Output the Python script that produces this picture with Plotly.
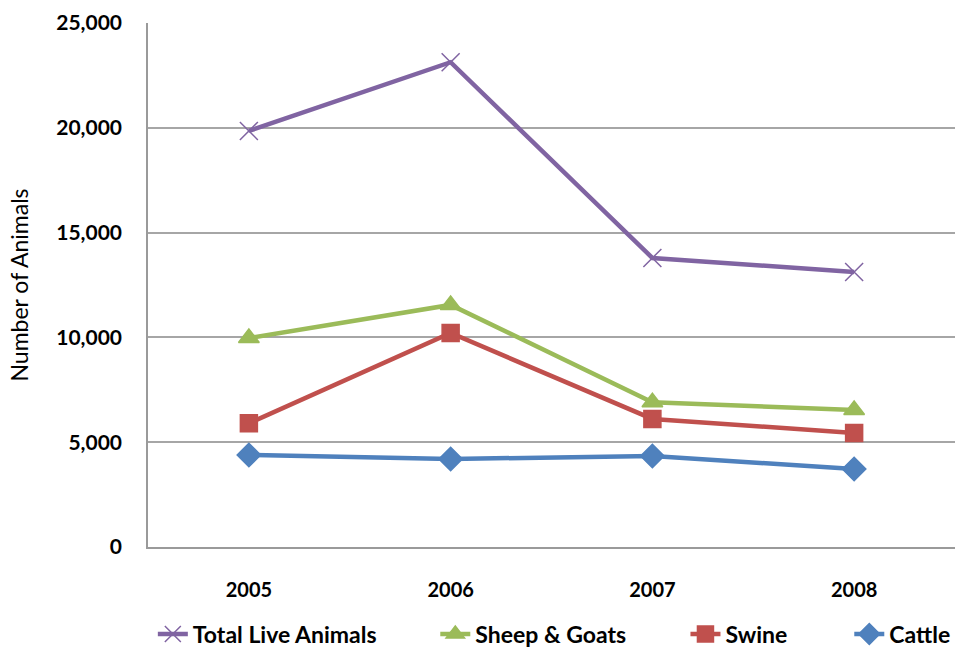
import plotly.graph_objects as go

years = ["2005", "2006", "2007", "2008"]
total_live = [19850, 23130, 13790, 13120]
sheep_goats = [9970, 11550, 6910, 6540]
swine = [5900, 10210, 6110, 5440]
cattle = [4390, 4200, 4340, 3720]

y_ticks = [0, 5000, 10000, 15000, 20000, 25000]
y_tick_labels = ["0", "5,000", "10,000", "15,000", "20,000", "25,000"]

series = [
    ("Total Live Animals", total_live, "#8064A2", "x-thin", 18),
    ("Sheep & Goats", sheep_goats, "#9BBB59", "triangle-up", 18),
    ("Swine", swine, "#C0504D", "square", 17),
    ("Cattle", cattle, "#4F81BD", "diamond", 18),
]

# one legend per entry so the entries can be spread along the bottom
legend_ids = ["legend", "legend2", "legend3", "legend4"]
legend_x = [0.006, 0.356, 0.666, 0.869]

font_family = "Lato, 'Open Sans', sans-serif"

fig = go.Figure()
for (name, vals, color, symbol, size), lid in zip(series, legend_ids):
    fig.add_trace(go.Scatter(
        x=years, y=vals, name=name, mode="lines+markers",
        line=dict(color=color, width=4.5),
        marker=dict(symbol=symbol, size=size, color=color,
                    line=dict(color=color, width=1.5)),
        legend=lid,
    ))

legend_layout = {}
for lid, lx in zip(legend_ids, legend_x):
    legend_layout[lid] = dict(
        orientation="h", x=lx, xanchor="left", y=-0.166, yanchor="middle",
        font=dict(size=23, family=font_family, weight="bold"),
        bgcolor="rgba(0,0,0,0)",
    )

fig.update_layout(
    width=956, height=648,
    margin=dict(l=148, r=1, t=23, b=101, autoexpand=False),
    paper_bgcolor="white", plot_bgcolor="white",
    font=dict(family=font_family, color="black"),
    showlegend=True,
    xaxis=dict(type="category", range=[-0.5, 3.5], showgrid=False,
               showline=True, linecolor="#9a9a9a", linewidth=1.5,
               ticks="", tickfont=dict(size=20, weight="bold"),
               ticklabelstandoff=24),
    yaxis=dict(range=[0, 25000], tickvals=y_ticks, ticktext=y_tick_labels,
               showgrid=True, gridcolor="#a6a6a6", gridwidth=1.5,
               showline=True, linecolor="#9a9a9a", linewidth=1.5,
               zeroline=False, ticks="",
               tickfont=dict(size=21, weight="bold"), ticklabelstandoff=20,
               title=dict(text="Number of Animals", font=dict(size=23), standoff=21)),
    **legend_layout,
)

fig.write_html("out.html")
